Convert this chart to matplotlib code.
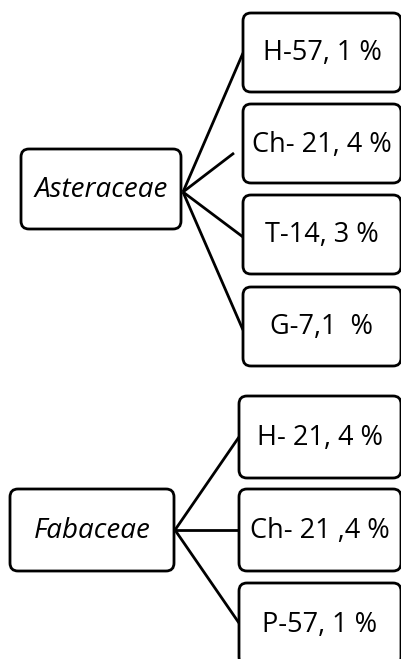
import matplotlib
matplotlib.use("Agg")
import matplotlib.pyplot as plt
from matplotlib.patches import FancyBboxPatch

# family names and their life-form shares
families = ["Asteraceae", "Fabaceae"]
aster_labels = ["H-57, 1 %", "Ch- 21, 4 %", "T-14, 3 %", "G-7,1  %"]
fabac_labels = ["H- 21, 4 %", "Ch- 21 ,4 %", "P-57, 1 %"]

W, H = 401, 659
LW = 2.0
FONT = "Open Sans"

fig = plt.figure(figsize=(W / 100, H / 100), dpi=100)
ax = fig.add_axes([0, 0, 1, 1])
ax.set_xlim(0, W)
ax.set_ylim(H, 0)
ax.axis("off")


def box(x0, y0, x1, y1, text, italic=False, size=19.5):
    p = FancyBboxPatch((x0 + 6, y0 + 6), x1 - x0 - 12, y1 - y0 - 12,
                       boxstyle="round,pad=6,rounding_size=8",
                       fc="white", ec="black", lw=LW, zorder=2)
    ax.add_patch(p)
    ax.text((x0 + x1) / 2, (y0 + y1) / 2 + 1, text, ha="center", va="center",
            fontsize=size, family=FONT, style="italic" if italic else "normal",
            zorder=3)


# top group
box(21, 149, 181, 229, families[0], italic=True, size=20)
tops = [13, 104, 195, 287]
ends = [(243, 53), (234, 153), (243, 237), (243, 330)]
for t, lab in zip(tops, aster_labels):
    box(243, t, 401, t + 79, lab)
for ex, ey in ends:
    ax.plot([183, ex], [192, ey], color="black", lw=LW, zorder=1,
            solid_capstyle="butt")

# bottom group
box(10, 489, 174, 571, families[1], italic=True, size=20)
tops = [396, 489, 583]
ends = [437, 530, 623]
for t, lab in zip(tops, fabac_labels):
    box(239, t, 401, t + 82, lab)
for ey in ends:
    ax.plot([175, 239], [530, ey], color="black", lw=LW, zorder=1,
            solid_capstyle="butt")

fig.savefig("out.png", dpi=100)
